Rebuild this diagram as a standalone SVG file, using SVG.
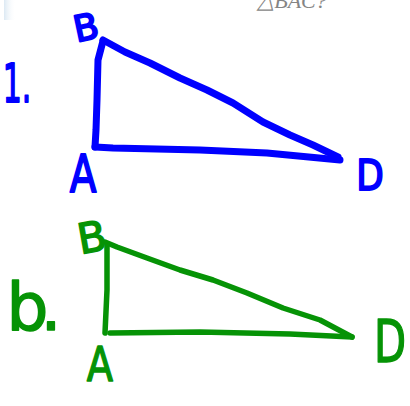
<svg xmlns="http://www.w3.org/2000/svg" width="410" height="406" viewBox="0 0 410 406">
<style>
.blue{stroke:#0000ff;fill:none;stroke-width:7;stroke-linecap:round;stroke-linejoin:round}
.green{stroke:#069306;fill:none;stroke-width:5.5;stroke-linecap:round;stroke-linejoin:round}
.lb{font-family:"DejaVu Sans",sans-serif;fill:#0000ff;stroke:#0000ff;stroke-width:2;stroke-linejoin:round;text-anchor:middle}
.lg{font-family:"DejaVu Sans",sans-serif;fill:#069306;stroke:#069306;stroke-width:1.5;stroke-linejoin:round;text-anchor:middle}
</style>
<defs>
<linearGradient id="sh" x1="0" y1="0" x2="1" y2="0">
<stop offset="0" stop-color="#dce9f3"/>
<stop offset="1" stop-color="#ffffff" stop-opacity="0"/>
</linearGradient>
</defs>
<rect width="410" height="406" fill="#ffffff"/>
<path d="M4,0 L16,0 Q12,10 16,20 L4,20 Z" fill="url(#sh)"/>
<text x="292" y="8" font-family="Liberation Serif, serif" font-style="italic" font-size="22" fill="#666" text-anchor="middle" opacity="0.8">△BAC?</text>
<g id="connectors">
<path class="blue" d="M103,40 L125,52 L150,63 L180,78 L207,90 L233,103 L263,122 L290,135 L313,145 L338,157"/>
<path class="blue" d="M103,41 L98,60 L97,100 L96,130 L95,147"/>
<path class="blue" d="M95,147 L113,148 L200,150 L267,153 L340,160"/>
<path class="green" d="M105,242 L117,247 L147,258 L180,270 L213,280 L247,293 L283,308 L320,320 L352,337"/>
<path class="green" d="M107,246 L107,290 L105,333"/>
<path class="green" d="M110,333 L200,332 L290,334 L352,337"/>
</g>
<g id="label-1"><text class="lb" x="17" y="102" font-size="60" stroke-width="1" transform="translate(17,102) scale(0.5,0.9) translate(-17,-102)">1.</text></g>
<g id="blue-B"><text class="lb" x="86" y="40" font-size="36" transform="rotate(-12 86 28)">B</text></g>
<g id="blue-A"><text class="lb" x="83" y="192" font-size="52" transform="translate(83,192) scale(0.75,1) translate(-83,-192)">A</text></g>
<g id="blue-D"><text class="lb" x="370" y="190" font-size="42" transform="translate(370,190) scale(0.85,1) translate(-370,-190)">D</text></g>
<g id="label-b"><text class="lg" x="30" y="330" font-size="66" stroke-width="0" letter-spacing="-8">b.</text></g>
<g id="green-B"><text class="lg" x="92" y="252" font-size="42" transform="rotate(-10 92 238)">B</text></g>
<g id="green-A"><text class="lg" x="100" y="381" font-size="48" transform="translate(100,381) scale(0.8,1) translate(-100,-381)">A</text></g>
<g id="green-D"><text class="lg" x="390" y="362" font-size="58" transform="translate(390,362) scale(0.72,1) translate(-390,-362)">D</text></g>
</svg>
